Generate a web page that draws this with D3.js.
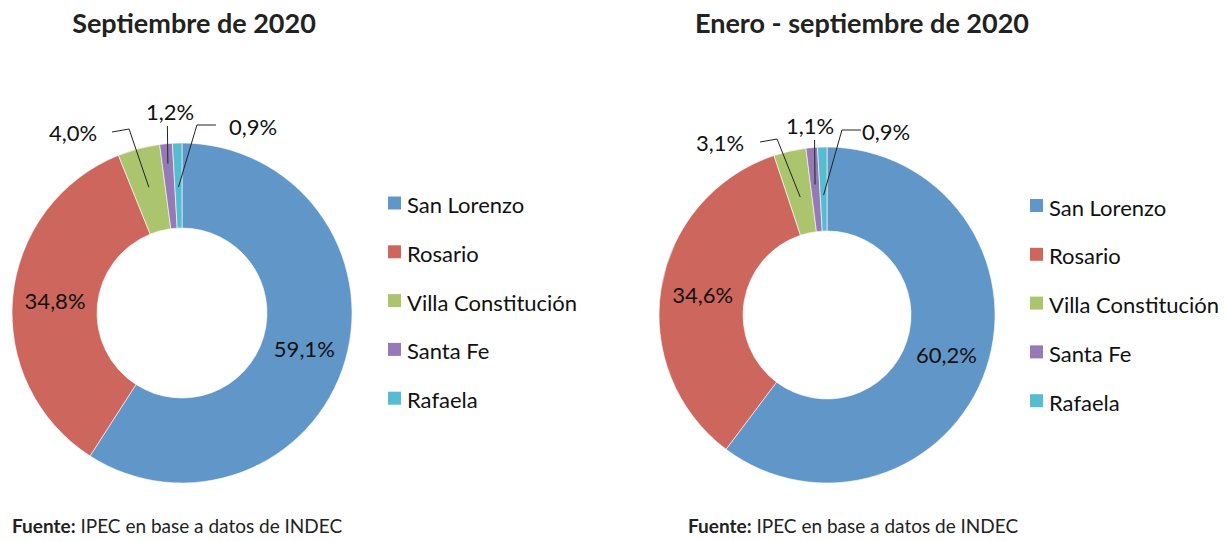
<!DOCTYPE html>
<html>
<head>
<meta charset="utf-8">
<script src="https://cdn.jsdelivr.net/npm/d3@7"></script>
<style>
  html, body { margin: 0; padding: 0; background: #fff; }
  svg { display: block; font-family: Lato, "Open Sans", sans-serif; }
</style>
</head>
<body>
<svg id="chart" width="1229" height="541"></svg>
<script>
// ---- Data ----
const categories = ["San Lorenzo", "Rosario", "Villa Constitución", "Santa Fe", "Rafaela"];
const septiembre2020 = [59.1, 34.8, 4.0, 1.2, 0.9];
const eneroSeptiembre2020 = [60.2, 34.6, 3.1, 1.1, 0.9];
const chartTitles = ["Septiembre de 2020", "Enero - septiembre de 2020"];
const sourceBold = "Fuente:";
const sourceText = " IPEC en base a datos de INDEC";

// ---- Styles / layout ----
const colors = ["#6096c8", "#cd665d", "#abc56f", "#957ab5", "#56bcd0"];
const panels = [
  { values: septiembre2020, title: chartTitles[0], cx: 182, cy: 313, R: 170, titleX: 194, legendX: 388, legendY: 203, footX: 12,
    outside: { 2: { dx: -109, dy: -180, type: "right", r: 130, gap: 15 }, 3: { dx: -12, dy: -201, type: "below", r: 150 }, 4: { dx: 71, dy: -186, type: "left", r: 126, gap: 13 } } },
  { values: eneroSeptiembre2020, title: chartTitles[1], cx: 827, cy: 315, R: 168, titleX: 862, legendX: 1030, legendY: 205.5, footX: 688,
    outside: { 2: { dx: -107, dy: -172, type: "right", r: 121, gap: 16 }, 3: { dx: -17, dy: -189, type: "below", r: 131 }, 4: { dx: 59, dy: -183, type: "left", r: 120, gap: 1 } } }
];
const legendStep = 48.8;
const fmt = v => d3.format(".1f")(v).replace(".", ",") + "%";

const svg = d3.select("#chart");

panels.forEach(p => {
  const g = svg.append("g").attr("transform", `translate(${p.cx},${p.cy})`);
  const pie = d3.pie().sort(null).value(d => d)(p.values);
  const arc = d3.arc().innerRadius(p.R * 0.5).outerRadius(p.R);

  g.selectAll("path.slice").data(pie).join("path")
    .attr("class", "slice")
    .attr("d", arc)
    .attr("fill", (d, i) => colors[i])
    .attr("stroke", "#ffffff")
    .attr("stroke-width", 0.6);

  // labels
  pie.forEach((d, i) => {
    const o = p.outside[i];
    const label = fmt(d.data);
    if (!o) {
      const [x, y] = arc.centroid(d);
      g.append("text").attr("x", x).attr("y", y + 8)
        .attr("text-anchor", "middle").attr("font-size", 22).attr("fill", "#111")
        .text(label);
    } else {
      const t = g.append("text").attr("x", o.dx).attr("y", o.dy + 8)
        .attr("text-anchor", "middle").attr("font-size", 22).attr("fill", "#111")
        .text(label);
      const w = t.node().getComputedTextLength();
      const mid = (d.startAngle + d.endAngle) / 2;
      const end = [o.r * Math.sin(mid), -o.r * Math.cos(mid)];
      let pts;
      if (o.type === "right") {
        const s = [o.dx + w / 2 + o.gap, o.dy - 1];
        pts = [s, [s[0] + 17, s[1] - 3], end];
      } else if (o.type === "left") {
        const s = [o.dx - w / 2 - o.gap, o.dy - 2];
        pts = [s, [s[0] - 19, s[1]], end];
      } else {
        pts = [[end[0] - 0.5, o.dy + 14], end];
      }
      g.append("path").attr("d", d3.line()(pts))
        .attr("fill", "none").attr("stroke", "#222").attr("stroke-width", 1);
    }
  });

  // title
  svg.append("text").attr("x", p.titleX).attr("y", 33)
    .attr("text-anchor", "middle").attr("font-size", 27).attr("font-weight", 700).attr("fill", "#222")
    .text(p.title);

  // legend
  const lg = svg.append("g");
  categories.forEach((c, i) => {
    const y = p.legendY + i * legendStep;
    lg.append("rect").attr("x", p.legendX).attr("y", y - 6.5).attr("width", 13).attr("height", 13).attr("fill", colors[i]);
    lg.append("text").attr("x", p.legendX + 19).attr("y", y + 10)
      .attr("font-size", 22).attr("fill", "#111").text(c);
  });

  // source
  const ft = svg.append("text").attr("x", p.footX).attr("y", 533).attr("font-size", 19).attr("fill", "#222");
  ft.append("tspan").attr("font-weight", 700).text(sourceBold);
  ft.append("tspan").text(sourceText);
});
</script>
</body>
</html>
